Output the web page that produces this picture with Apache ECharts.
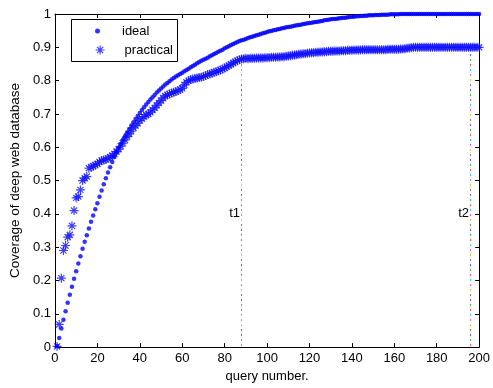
<!DOCTYPE html>
<html>
<head>
<meta charset="utf-8">
<script src="https://cdn.jsdelivr.net/npm/echarts@6/dist/echarts.min.js"></script>
<style>
html, body { margin: 0; padding: 0; background: #fff; }
#chart { width: 493px; height: 388px; }
</style>
</head>
<body>
<div id="chart"></div>
<script>
// coverage values, one per query number (1..200)
var ideal = [
    0.003, 0.027, 0.056, 0.082, 0.108, 0.133, 0.157, 0.181, 0.205, 0.228,
    0.251, 0.273, 0.295, 0.316, 0.336, 0.356, 0.376, 0.395, 0.414, 0.432,
    0.451, 0.470, 0.489, 0.507, 0.524, 0.540, 0.556, 0.571, 0.585, 0.598,
    0.610, 0.622, 0.633, 0.644, 0.655, 0.665, 0.675, 0.685, 0.694, 0.703,
    0.712, 0.720, 0.728, 0.736, 0.743, 0.750, 0.757, 0.764, 0.770, 0.776,
    0.782, 0.788, 0.793, 0.798, 0.803, 0.808, 0.812, 0.816, 0.820, 0.824,
    0.828, 0.832, 0.836, 0.840, 0.844, 0.848, 0.852, 0.856, 0.860, 0.863,
    0.866, 0.869, 0.873, 0.876, 0.880, 0.883, 0.887, 0.890, 0.893, 0.897,
    0.900, 0.903, 0.907, 0.910, 0.913, 0.916, 0.919, 0.921, 0.923, 0.925,
    0.928, 0.930, 0.932, 0.934, 0.936, 0.938, 0.940, 0.942, 0.944, 0.946,
    0.948, 0.949, 0.951, 0.952, 0.954, 0.955, 0.957, 0.958, 0.960, 0.961,
    0.962, 0.963, 0.965, 0.966, 0.967, 0.968, 0.970, 0.971, 0.972, 0.973,
    0.974, 0.975, 0.976, 0.977, 0.978, 0.979, 0.981, 0.982, 0.983, 0.984,
    0.985, 0.985, 0.986, 0.987, 0.988, 0.989, 0.989, 0.990, 0.991, 0.992,
    0.992, 0.993, 0.993, 0.994, 0.994, 0.995, 0.995, 0.996, 0.996, 0.996,
    0.997, 0.997, 0.997, 0.998, 0.998, 0.998, 0.998, 0.999, 0.999, 0.999,
    0.999, 0.999, 1, 1, 1, 1, 1, 1, 1, 1,
    1, 1, 1, 1, 1, 1, 1, 1, 1, 1,
    1, 1, 1, 1, 1, 1, 1, 1, 1, 1,
    1, 1, 1, 1, 1, 1, 1, 1, 1, 1
];
var practical = [
    0.002, 0.068, 0.207, 0.290, 0.305, 0.330, 0.337, 0.364, 0.410, 0.448,
    0.452, 0.472, 0.500, 0.507, 0.512, 0.537, 0.540, 0.543, 0.547, 0.550,
    0.556, 0.560, 0.562, 0.563, 0.567, 0.570, 0.575, 0.580, 0.587, 0.594,
    0.603, 0.612, 0.622, 0.632, 0.640, 0.648, 0.658, 0.665, 0.672, 0.680,
    0.686, 0.692, 0.697, 0.700, 0.705, 0.712, 0.718, 0.726, 0.733, 0.740,
    0.748, 0.754, 0.757, 0.760, 0.763, 0.765, 0.767, 0.770, 0.773, 0.777,
    0.787, 0.795, 0.800, 0.803, 0.805, 0.806, 0.808, 0.809, 0.810, 0.812,
    0.815, 0.818, 0.820, 0.822, 0.825, 0.827, 0.829, 0.832, 0.835, 0.838,
    0.842, 0.845, 0.849, 0.853, 0.857, 0.860, 0.863, 0.865, 0.866, 0.867,
    0.866, 0.867, 0.867, 0.867, 0.868, 0.868, 0.868, 0.868, 0.869, 0.869,
    0.869, 0.870, 0.870, 0.870, 0.871, 0.871, 0.872, 0.872, 0.873, 0.874,
    0.875, 0.876, 0.877, 0.878, 0.879, 0.880, 0.881, 0.881, 0.882, 0.883,
    0.884, 0.884, 0.885, 0.885, 0.886, 0.886, 0.887, 0.887, 0.888, 0.888,
    0.888, 0.889, 0.889, 0.889, 0.890, 0.890, 0.890, 0.891, 0.891, 0.891,
    0.892, 0.892, 0.892, 0.892, 0.893, 0.893, 0.893, 0.893, 0.893, 0.893,
    0.893, 0.893, 0.893, 0.893, 0.893, 0.893, 0.894, 0.894, 0.894, 0.894,
    0.894, 0.894, 0.895, 0.895, 0.896, 0.897, 0.898, 0.899, 0.900, 0.900,
    0.900, 0.900, 0.900, 0.900, 0.900, 0.900, 0.900, 0.900, 0.900, 0.900,
    0.900, 0.900, 0.900, 0.900, 0.900, 0.900, 0.900, 0.900, 0.900, 0.900,
    0.900, 0.900, 0.900, 0.900, 0.900, 0.900, 0.900, 0.900, 0.900, 0.900
];
// the two marked query counts
var tQuery = [87.5, 195.5];
var tTop = [0.86, 0.9];
var tLabels = ['t1', 't2'];
var tLabelY = [0.4, 0.4];

var font = '"Liberation Sans", Arial, sans-serif';
var dotColors = ['#ff5a5a', '#3cbf3c', '#5a5aff', '#7a7a7a', '#d2d23c', '#ff5aff', '#3cd2d2'];
var star = 'path://M5 0L5 10M0 5L10 5M1.6 1.6L8.4 8.4M1.6 8.4L8.4 1.6';

var idealData = ideal.map(function (v, i) { return [i + 1, v]; });
var practicalData = practical.map(function (v, i) { return [i + 1, v]; });
var tData = tQuery.map(function (q, i) { return [q, tTop[i], tLabelY[i], i]; });

var chart = echarts.init(document.getElementById('chart'));

var axisCommon = {
    type: 'value',
    axisLine: { show: true, onZero: false, lineStyle: { color: '#000', width: 1 } },
    axisTick: { show: true, inside: true, length: 4, lineStyle: { color: '#000' } },
    splitLine: { show: false }
};

var option = {
    animation: false,
    backgroundColor: '#fff',
    grid: { left: 52, right: 7, top: 14, bottom: 37 },
    xAxis: [
        Object.assign({}, axisCommon, {
            position: 'bottom', min: 0, max: 200, interval: 20,
            axisLabel: { color: '#000', fontSize: 13, fontFamily: font, margin: 5 },
            name: 'query number.', nameLocation: 'middle', nameGap: 22,
            nameTextStyle: { color: '#000', fontSize: 13, fontFamily: font }
        }),
        Object.assign({}, axisCommon, {
            position: 'top', min: 0, max: 200, interval: 20,
            axisLabel: { show: false }
        })
    ],
    yAxis: [
        Object.assign({}, axisCommon, {
            position: 'left', min: 0, max: 1, interval: 0.1,
            axisLabel: { color: '#000', fontSize: 13, fontFamily: font, margin: 4 },
            name: 'Coverage of deep web database', nameLocation: 'middle', nameGap: 29,
            nameTextStyle: { color: '#000', fontSize: 13.5, fontFamily: font }
        }),
        Object.assign({}, axisCommon, {
            position: 'right', min: 0, max: 1, interval: 0.1,
            axisLabel: { show: false }
        })
    ],
    legend: [
        {
            data: [{ name: 'ideal', icon: 'circle' }],
            left: 95, top: 24.5, padding: 0,
            itemWidth: 39, itemHeight: 5,
            textStyle: { color: '#000', fontSize: 13, fontFamily: font },
            selectedMode: false
        },
        {
            data: [{ name: 'practical', icon: star,
                     itemStyle: { color: 'rgba(0,0,0,0)', borderColor: '#1010ff', borderWidth: 1.2 } }],
            left: 95, top: 43.5, padding: 0,
            itemWidth: 39, itemHeight: 9,
            textStyle: { color: '#000', fontSize: 13, fontFamily: font },
            selectedMode: false
        }
    ],
    graphic: [{
        type: 'rect', z: 3,
        shape: { x: 71.5, y: 19.5, width: 106, height: 42 },
        style: { fill: '#fff', stroke: '#000', lineWidth: 1 }
    }],
    series: [
        {
            type: 'custom',
            name: 'marks',
            silent: true,
            z: 1,
            data: tData,
            renderItem: function (params, api) {
                var top = api.coord([api.value(0), api.value(1)]);
                var bottom = api.coord([api.value(0), 0]);
                var lab = api.coord([api.value(0), api.value(2)]);
                var x = Math.round(top[0]);
                var children = [];
                var k = 0;
                for (var y = bottom[1] - 3; y > top[1]; y -= 5) {
                    children.push({
                        type: 'rect',
                        shape: { x: x, y: Math.round(y), width: 1, height: 2 },
                        style: { fill: dotColors[k % dotColors.length] }
                    });
                    k++;
                }
                children.push({
                    type: 'text',
                    style: {
                        text: tLabels[api.value(3)], x: x - 1, y: lab[1],
                        align: 'right', verticalAlign: 'middle',
                        fontSize: 13, fontFamily: font, fill: '#000'
                    }
                });
                return { type: 'group', children: children };
            }
        },
        {
            name: 'practical',
            type: 'scatter',
            symbol: star,
            symbolSize: 9,
            data: practicalData,
            itemStyle: { color: 'rgba(0,0,0,0)', borderColor: '#1010ff', borderWidth: 1.2 },
            emphasis: { disabled: true }
        },
        {
            name: 'ideal',
            type: 'scatter',
            symbol: 'circle',
            symbolSize: 4.5,
            data: idealData,
            itemStyle: { color: '#0000ff' },
            emphasis: { disabled: true }
        }
    ]
};
chart.setOption(option);

window.onresize = chart.resize;
</script>
</body>
</html>
